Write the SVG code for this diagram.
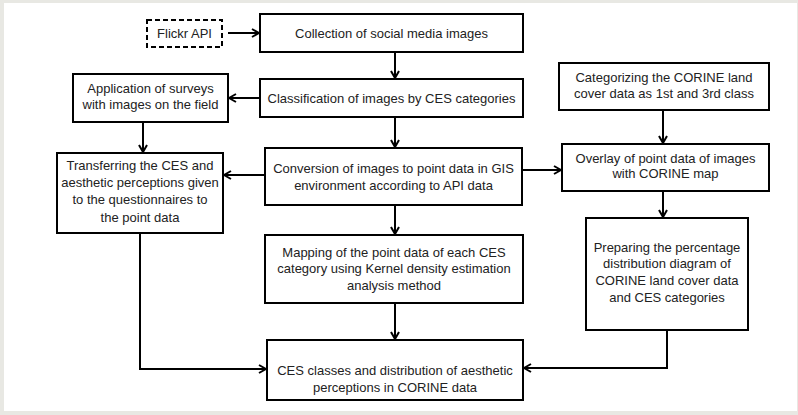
<svg xmlns="http://www.w3.org/2000/svg" width="798" height="415" viewBox="0 0 798 415">
<defs>
<marker id="ah" viewBox="0 0 10 10" refX="9" refY="5" markerWidth="10" markerHeight="10" markerUnits="userSpaceOnUse" orient="auto">
<path d="M2,1 L9,5 L2,9" fill="none" stroke="#000" stroke-width="2"/>
</marker>
<style>
.box{fill:#fff;stroke:#000;stroke-width:2}
.dash{fill:#fff;stroke:#000;stroke-width:2;stroke-dasharray:5,3}
text{font-family:"Liberation Sans",Arial,sans-serif;font-size:13px;fill:#222;text-anchor:middle}
.c{fill:none;stroke:#000;stroke-width:2;marker-end:url(#ah)}
</style>
</defs>
<rect x="0" y="0" width="798" height="415" fill="#e8e8e3"/>
<rect x="4" y="3" width="793" height="408" fill="#fff"/>
<g id="connectors">
<line class="c" x1="228" y1="33" x2="259" y2="33"/>
<line class="c" x1="395" y1="52" x2="395" y2="78"/>
<line class="c" x1="260" y1="98" x2="229" y2="98"/>
<line class="c" x1="143" y1="122" x2="143" y2="152"/>
<line class="c" x1="395" y1="117" x2="395" y2="147"/>
<line class="c" x1="265" y1="175" x2="224" y2="175"/>
<line class="c" x1="522" y1="170" x2="561" y2="170"/>
<line class="c" x1="663" y1="110" x2="663" y2="143"/>
<line class="c" x1="663" y1="191" x2="663" y2="217"/>
<line class="c" x1="395" y1="205" x2="395" y2="234"/>
<line class="c" x1="395" y1="303" x2="395" y2="339"/>
<polyline class="c" points="140,233 140,369 266,369"/>
<polyline class="c" points="667,330 667,368 524,368"/>
</g>
<g id="flickr"><rect class="dash" x="147" y="20" width="75" height="27"/><text x="184.5" y="38">Flickr API</text></g>
<g id="collection"><rect class="box" x="260" y="14" width="263" height="38"/><text x="391.5" y="37.5">Collection of social media images</text></g>
<g id="classification"><rect class="box" x="260" y="79" width="263" height="38"/><text x="391.5" y="102.5">Classification of images by CES categories</text></g>
<g id="application"><rect class="box" x="73" y="74" width="155" height="48"/><text x="150.5" y="92.5">Application of surveys</text><text x="150.5" y="109">with images on the field</text></g>
<g id="categorizing"><rect class="box" x="559" y="63" width="210" height="47"/><text x="664" y="81.5">Categorizing the CORINE land</text><text x="664" y="98">cover data as 1st and 3rd class</text></g>
<g id="transferring"><rect class="box" x="57" y="153" width="166" height="80"/><text x="140" y="169.5">Transferring the CES and</text><text x="140" y="187">aesthetic perceptions given</text><text x="140" y="204">to the questionnaires to</text><text x="140" y="221.5">the point data</text></g>
<g id="conversion"><rect class="box" x="265" y="148" width="257" height="57"/><text x="393.5" y="172.5">Conversion of images to point data in GIS</text><text x="393.5" y="189.5">environment according to API data</text></g>
<g id="overlay"><rect class="box" x="562" y="144" width="207" height="47"/><text x="665.5" y="162.5">Overlay of point data of images</text><text x="665.5" y="178">with CORINE map</text></g>
<g id="mapping"><rect class="box" x="265" y="235" width="258" height="68"/><text x="394" y="256.5">Mapping of the point data of each CES</text><text x="394" y="273">category using Kernel density estimation</text><text x="394" y="290">analysis method</text></g>
<g id="preparing"><rect class="box" x="586" y="218" width="162" height="112"/><text x="667" y="251.5">Preparing the percentage</text><text x="667" y="268">distribution diagram of</text><text x="667" y="284.5">CORINE land cover data</text><text x="667" y="301.5">and CES categories</text></g>
<g id="ces"><rect class="box" x="267" y="340" width="256" height="60"/><text x="395" y="374.5">CES classes and distribution of aesthetic</text><text x="395" y="392">perceptions in CORINE data</text></g>
</svg>
